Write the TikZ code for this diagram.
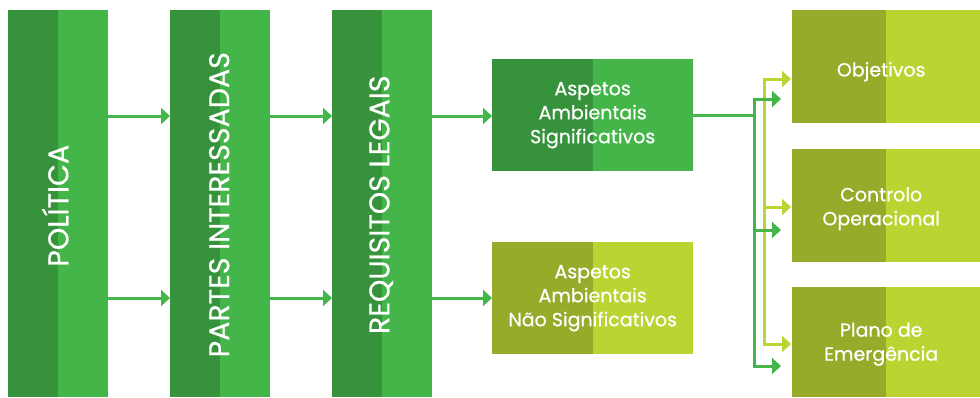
\documentclass[tikz,border=0pt]{standalone}
\usepackage{fontspec}
\setmainfont{Poppins}
\newfontfamily\medfont{Poppins}[FakeBold=0.6]
\usetikzlibrary{arrows.meta}
\definecolor{dgreen}{RGB}{54,146,59}
\definecolor{lgreen}{RGB}{67,181,73}
\definecolor{olive}{RGB}{152,170,42}
\definecolor{lime}{RGB}{187,212,50}
\tikzset{
  twotone/.style 2 args={draw=none, fill=#2, anchor=north west, inner sep=0pt,
    path picture={\fill[#1] (path picture bounding box.south west) rectangle (path picture bounding box.north);}},
  barbox/.style={twotone={dgreen}{lgreen}, minimum width=100pt, minimum height=387pt},
  gbox/.style={twotone={dgreen}{lgreen}, minimum width=201pt, minimum height=112pt},
  obox/.style={twotone={olive}{lime}, minimum width=201pt, minimum height=112pt},
  rbox/.style={twotone={olive}{lime}, minimum width=188pt},
  bartext/.style={text=white, rotate=90, font=\medfont\fontsize{28.5}{32}\selectfont},
  boxtext/.style={text=white, align=center, font=\medfont\fontsize{19}{24}\selectfont},
  garrow/.style={draw=lgreen, line width=3pt, -{Triangle[length=9pt,width=16pt]}},
  larrow/.style={draw=lime, line width=3pt, -{Triangle[length=9pt,width=16pt]}},
  gline/.style={draw=lgreen, line width=3pt},
  lline/.style={draw=lime, line width=3pt},
}
\begin{document}
\begin{tikzpicture}[x=1pt,y=-1pt]
\useasboundingbox (0,0) rectangle (980,397);
\node[barbox] (b1) at (8,10) {};
\node[barbox] (b2) at (170,10) {};
\node[barbox] (b3) at (332,10) {};
\node[bartext] (t1) at ([xshift=-3pt,yshift=-2pt]b1.center) {POLÍTICA};
\node[bartext] (t2) at ([xshift=-1pt,yshift=-1pt]b2.center) {PARTES INTERESSADAS};
\node[bartext] (t3) at ([xshift=-1pt,yshift=-1pt]b3.center) {REQUISITOS LEGAIS};
\node[gbox] (sig) at (492,59) {};
\node[boxtext] at ([xshift=0pt]sig.center) {Aspetos\\Ambientais\\Significativos};
\node[obox] (ns) at (492,242) {};
\node[boxtext] at (ns.center) {Aspetos\\Ambientais\\Não Significativos};
\node[rbox, minimum height=113pt] (obj) at (792,10) {};
\node[boxtext, anchor=center] at ([xshift=-5pt,yshift=-5pt]obj.center) {Objetivos};
\node[rbox, minimum height=113pt] (ctl) at (792,149) {};
\node[boxtext] at ([xshift=-5pt,yshift=-3pt]ctl.center) {Controlo\\Operacional};
\node[rbox, minimum height=110pt] (ple) at (792,287) {};
\node[boxtext] at ([xshift=-5pt,yshift=-2pt]ple.center) {Plano de\\Emergência};
% bar arrows
\coordinate (ya) at (0,116);
\coordinate (yb) at (0,298);
\draw[garrow] (b1.east |- ya) -- (b2.west |- ya);
\draw[garrow] (b1.east |- yb) -- (b2.west |- yb);
\draw[garrow] (b2.east |- ya) -- (b3.west |- ya);
\draw[garrow] (b2.east |- yb) -- (b3.west |- yb);
\draw[garrow] (b3.east |- ya) -- (sig.west |- ya);
\draw[garrow] (b3.east |- yb) -- (ns.west |- yb);
% right distribution
\coordinate (gj) at (754,115);
\coordinate (gt) at (754,99);
\coordinate (gm) at (754,230);
\coordinate (gb) at (754,366);
\coordinate (lt) at (764,79);
\coordinate (lm) at (764,207);
\coordinate (lb) at (764,344);
\draw[gline] (sig.east |- gj) -- (gj);
\draw[gline] ([yshift=-1.5pt]gt) -- ([yshift=1.5pt]gb);
\draw[lline] ([yshift=-1.5pt]lt) -- ([yshift=1.5pt]lb);
\draw[larrow] ([xshift=-1.5pt]lt) -- ([xshift=-1pt]obj.west |- lt);
\draw[larrow] (lm) -- ([xshift=-1pt]ctl.west |- lm);
\draw[larrow] ([xshift=-1.5pt]lb) -- ([xshift=-1pt]ple.west |- lb);
\draw[garrow] ([xshift=-1.5pt]gt) -- ([xshift=-11pt]obj.west |- gt);
\draw[garrow] (gm) -- ([xshift=-11pt]ctl.west |- gm);
\draw[garrow] ([xshift=-1.5pt]gb) -- ([xshift=-11pt]ple.west |- gb);
\end{tikzpicture}
\end{document}
